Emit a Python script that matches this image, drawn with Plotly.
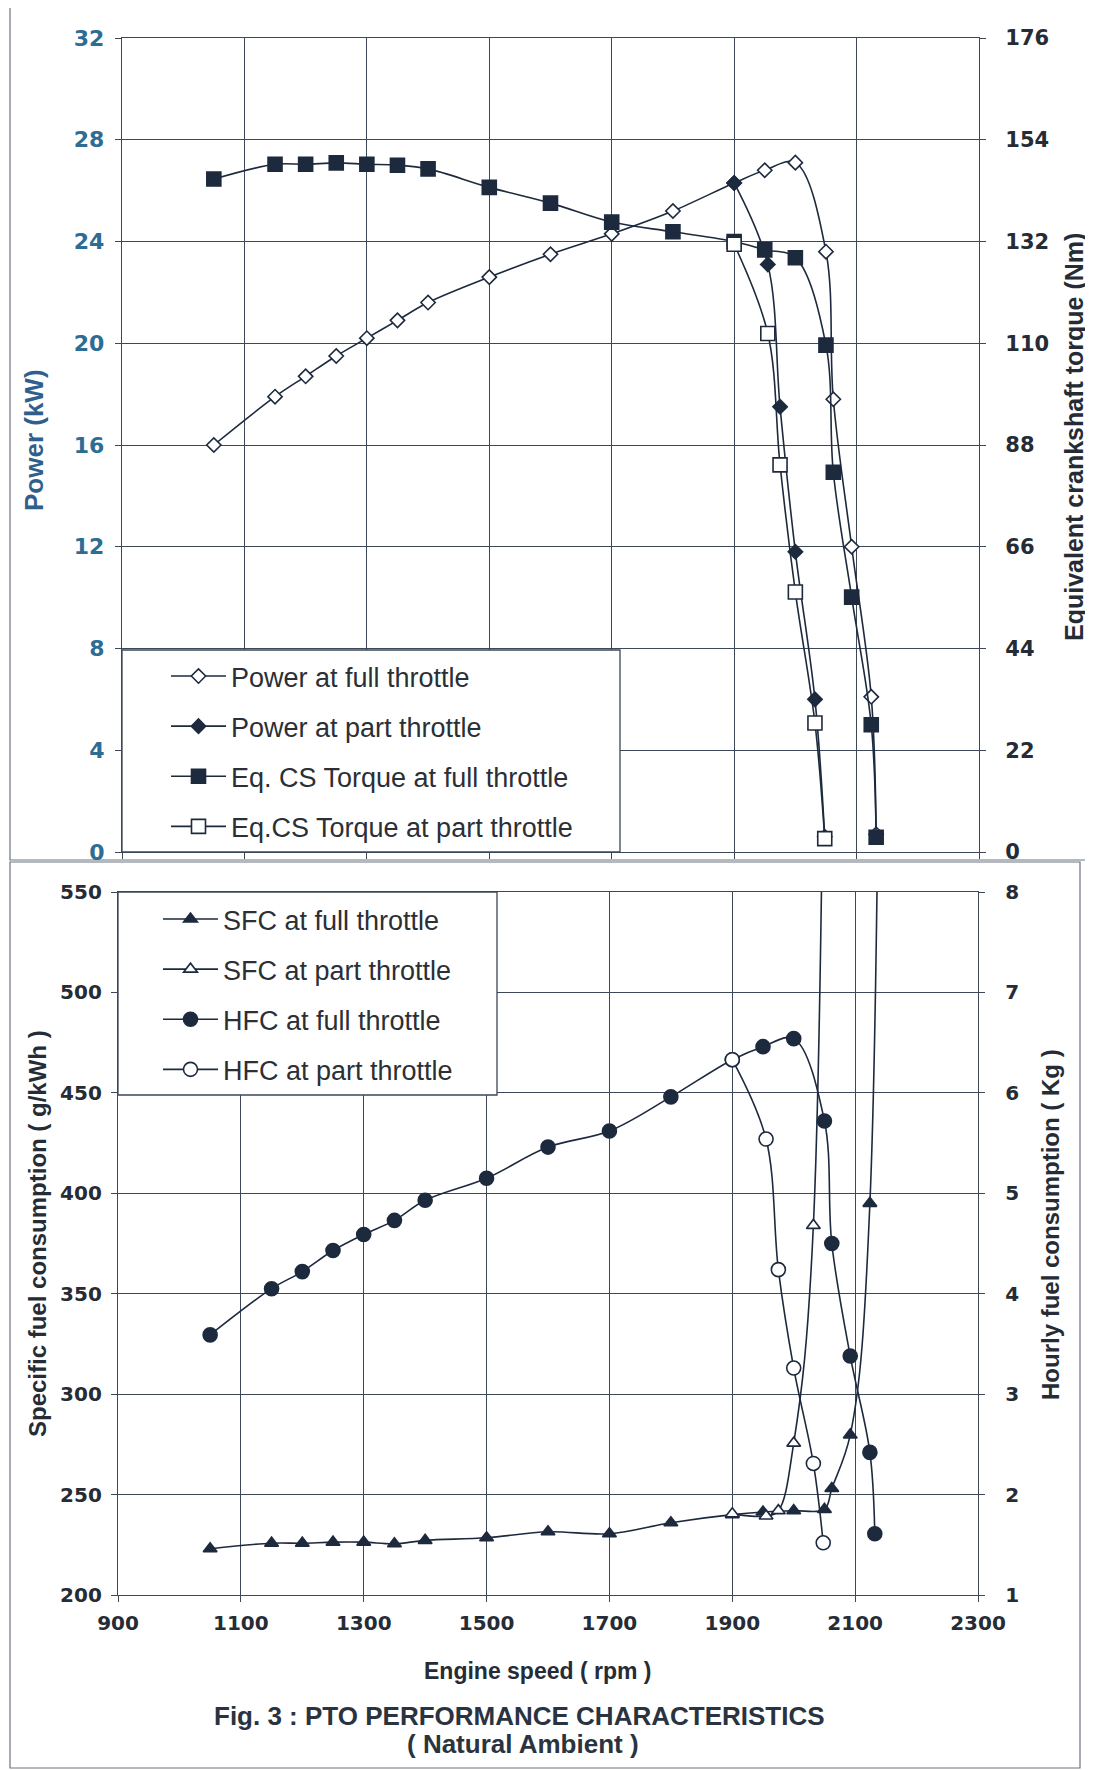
import plotly.graph_objects as go

# ---------------- data ----------------
rpm_full = [1050, 1150, 1200, 1250, 1300, 1350, 1400, 1500, 1600, 1700, 1800,
            1900, 1950, 2000, 2050, 2062, 2092, 2124, 2132]
rpm_part = [1900, 1955, 1975, 2000, 2032, 2048]

power_full = [16.0, 17.9, 18.7, 19.5, 20.2, 20.9, 21.6, 22.6, 23.5, 24.3, 25.2,
              26.3, 26.8, 27.1, 23.6, 17.8, 12.0, 6.1, 0.7]
power_part = [26.3, 23.1, 17.5, 11.8, 6.0, 0.6]

torque_full = [145.5, 148.7, 148.7, 149.0, 148.7, 148.5, 147.7, 143.7, 140.3, 136.2, 134.1,
               132.0, 130.2, 128.5, 109.6, 82.1, 55.1, 27.5, 3.2]
torque_part = [131.4, 112.1, 83.7, 56.2, 27.9, 2.9]

sfc_full = [223.0, 225.8, 225.8, 226.3, 226.3, 225.5, 227.2, 228.5, 231.5, 230.5, 236.0,
            240.0, 241.3, 242.0, 242.6, 253.0, 279.7, 395.0, 2300.0]
sfc_part = [240.4, 239.3, 242.0, 275.6, 384.0, 2500.0]

hfc_full = [3.59, 4.05, 4.22, 4.43, 4.59, 4.73, 4.93, 5.15, 5.46, 5.62, 5.96,
            6.33, 6.46, 6.54, 5.72, 4.50, 3.38, 2.42, 1.61]
hfc_part = [6.33, 5.54, 4.24, 3.26, 2.31, 1.52]

x_ticks = [900, 1100, 1300, 1500, 1700, 1900, 2100, 2300]
power_ticks = [0, 4, 8, 12, 16, 20, 24, 28, 32]
torque_ticks = [0, 22, 44, 66, 88, 110, 132, 154, 176]
sfc_ticks = [200, 250, 300, 350, 400, 450, 500, 550]
hfc_ticks = [1, 2, 3, 4, 5, 6, 7, 8]

# ---------------- style ----------------
WIN_W, WIN_H = 1093, 1770
OFF = 8                      # default page body margin
W, H = WIN_W - OFF, WIN_H - OFF
INK = "#1d2a3e"
GRID = "#3d4757"
TXT = "#262c36"
BLUE = "#2f5f8c"
FONT = "Liberation Sans, Arial, sans-serif"
TICKFONT = "DejaVu Sans, sans-serif"


def px(x):
    """window x (pixels) -> paper fraction"""
    return (x - OFF) / W


def py(y):
    """window y (pixels from top) -> paper fraction"""
    return 1 - (y - OFF) / H


def line_trace(x, y, name, symbol, filled, size, xa, ya, legend, group):
    return go.Scatter(
        x=x, y=y, name=name, mode="lines+markers",
        xaxis=xa, yaxis=ya, legend=legend, legendgroup=group,
        line=dict(color=INK, width=1.6, shape="spline", smoothing=1.0),
        marker=dict(symbol=symbol, size=size,
                    color=INK if filled else "white",
                    line=dict(color=INK, width=1.6)),
        cliponaxis=True,
    )


fig = go.Figure()

fig.add_trace(line_trace(rpm_full, power_full, "Power at full throttle", "diamond", False, 11, "x", "y", "legend", "g1"))
fig.add_trace(line_trace(rpm_part, power_part, "Power at part throttle", "diamond", True, 11, "x", "y", "legend", "g2"))
fig.add_trace(line_trace(rpm_full, torque_full, "Eq. CS Torque at full throttle", "square", True, 14, "x", "y2", "legend", "g3"))
fig.add_trace(line_trace(rpm_part, torque_part, "Eq.CS Torque at part throttle", "square", False, 14, "x", "y2", "legend", "g4"))

fig.add_trace(line_trace(rpm_full, sfc_full, "SFC at full throttle", "triangle-up", True, 12, "x2", "y3", "legend2", "h1"))
fig.add_trace(line_trace(rpm_part, sfc_part, "SFC at part throttle", "triangle-up", False, 12, "x2", "y3", "legend2", "h2"))
fig.add_trace(line_trace(rpm_full, hfc_full, "HFC at full throttle", "circle", True, 14, "x2", "y4", "legend2", "h3"))
fig.add_trace(line_trace(rpm_part, hfc_part, "HFC at part throttle", "circle", False, 14, "x2", "y4", "legend2", "h4"))


def tfont(size=20, color=TXT):
    return dict(family=TICKFONT, size=size, color=color, weight="bold")


axis_common = dict(
    showline=True, linecolor=GRID, linewidth=1.3,
    showgrid=True, gridcolor=GRID, gridwidth=1.1,
    zeroline=False, ticks="outside", ticklen=6, tickcolor=GRID,
    tickfont=tfont(), automargin=False,
)

top_x = [px(122), px(979)]
top_y = [py(852), py(38)]
bot_x = [px(118), px(978)]
bot_y = [py(1595), py(892)]

fig.update_layout(
    width=W, height=H,
    margin=dict(l=0, r=0, t=0, b=0, pad=0),
    paper_bgcolor="white", plot_bgcolor="white",
    font=dict(family=FONT, color=TXT),
    xaxis=dict(domain=top_x, anchor="y", range=[900, 2300], tickvals=x_ticks,
               showticklabels=False, mirror=True, **axis_common),
    yaxis=dict(domain=top_y, anchor="x", range=[0, 32], tickvals=power_ticks,
               **{**axis_common, "tickfont": tfont(22, "#2e6d93"), "ticklabelstandoff": 6}),
    yaxis2=dict(domain=top_y, anchor="x", overlaying="y", side="right",
                range=[0, 176], tickvals=torque_ticks,
                **{**axis_common, "showgrid": False, "tickfont": tfont(21), "ticklabelstandoff": 15}),
    xaxis2=dict(domain=bot_x, anchor="y3", range=[900, 2300], tickvals=x_ticks,
                mirror=True, **{**axis_common, "ticklabelstandoff": 4}),
    yaxis3=dict(domain=bot_y, anchor="x2", range=[200, 550], tickvals=sfc_ticks,
                **{**axis_common, "ticklabelstandoff": 5}),
    yaxis4=dict(domain=bot_y, anchor="x2", overlaying="y3", side="right",
                range=[1, 8], tickvals=hfc_ticks,
                **{**axis_common, "showgrid": False, "ticklabelstandoff": 16}),
    legend=dict(x=px(166), y=py(652), xanchor="left", yanchor="top",
                bgcolor="rgba(0,0,0,0)", borderwidth=0,
                font=dict(family=FONT, size=27, color="#2b2f36"),
                tracegroupgap=12, itemwidth=55),
    legend2=dict(x=px(158), y=py(895), xanchor="left", yanchor="top",
                 bgcolor="rgba(0,0,0,0)", borderwidth=0,
                 font=dict(family=FONT, size=27, color="#2b2f36"),
                 tracegroupgap=12, itemwidth=55),
    showlegend=True,
)

shapes = [
    dict(type="rect", xref="paper", yref="paper", x0=px(10), x1=px(1090), y0=py(860), y1=py(6),
         line=dict(color="#6b7482", width=1.2), fillcolor="rgba(0,0,0,0)", layer="below"),
    dict(type="rect", xref="paper", yref="paper", x0=px(10), x1=px(1080), y0=py(1768), y1=py(862),
         line=dict(color="#6b7482", width=1.2), fillcolor="rgba(0,0,0,0)", layer="below"),
    dict(type="rect", xref="paper", yref="paper", x0=px(122), x1=px(620), y0=py(852), y1=py(650),
         line=dict(color=GRID, width=1.3), fillcolor="white", layer="above"),
    dict(type="rect", xref="paper", yref="paper", x0=px(118), x1=px(497), y0=py(1095), y1=py(892),
         line=dict(color=GRID, width=1.3), fillcolor="white", layer="above"),
]
fig.update_layout(shapes=shapes)

ann = [
    dict(text="<b>Power (kW)</b>", x=px(34), y=py(440), textangle=-90,
         font=dict(size=26, color=BLUE)),
    dict(text="<b>Equivalent crankshaft torque (Nm)</b>", x=px(1074), y=py(437), textangle=-90,
         font=dict(size=25, color=TXT)),
    dict(text="<b>Specific fuel consumption ( g/kWh )</b>", x=px(37), y=py(1234), textangle=-90,
         font=dict(size=24, color=TXT)),
    dict(text="<b>Hourly fuel consumption ( Kg )</b>", x=px(1050), y=py(1225), textangle=-90,
         font=dict(size=24, color=TXT)),
    dict(text="<b>Engine speed ( rpm )</b>", x=px(537), y=py(1671),
         font=dict(size=23, color=TXT)),
    dict(text="<b>Fig. 3 : PTO PERFORMANCE CHARACTERISTICS</b>", x=px(519), y=py(1716),
         font=dict(size=26, color="#2a3340")),
    dict(text="<b>( Natural Ambient )</b>", x=px(523), y=py(1744),
         font=dict(size=26, color="#2a3340")),
]
for a in ann:
    a.update(xref="paper", yref="paper", showarrow=False, xanchor="center", yanchor="middle")
    a["font"]["family"] = FONT
fig.update_layout(annotations=ann)

fig.write_html("out.html")
